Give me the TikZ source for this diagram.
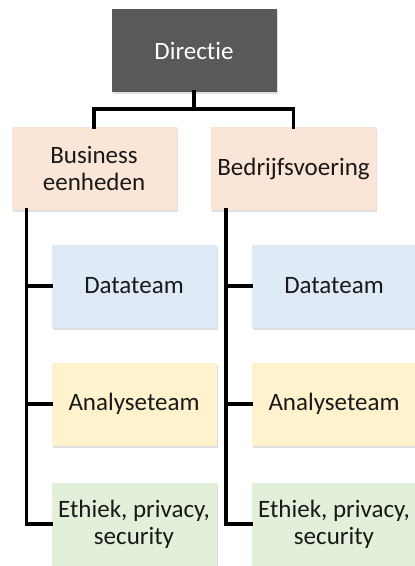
\documentclass[tikz,border=0pt]{standalone}
\usepackage{fontspec}
\setmainfont[Ligatures={NoCommon}]{Carlito}
\usepackage{xcolor}
\usetikzlibrary{positioning, shadows}
\definecolor{topgray}{HTML}{595959}
\definecolor{peach}{HTML}{FBE5D6}
\definecolor{lightblue}{HTML}{DEEBF7}
\definecolor{lightyellow}{HTML}{FFF2CC}
\definecolor{lightgreen}{HTML}{E2F0D9}

\begin{document}
\begin{tikzpicture}[x=1pt, y=-1pt,
    box/.style={rectangle, minimum width=165pt, minimum height=83pt,
        inner sep=2pt, align=center, font=\fontsize{25}{27}\selectfont,
        text=black!90, drop shadow={opacity=0.25, shadow xshift=1pt, shadow yshift=-2pt}},
    top/.style={box, fill=topgray, text=white},
    unit/.style={box, fill=peach},
    data/.style={box, fill=lightblue},
    analyse/.style={box, fill=lightyellow},
    ethiek/.style={box, fill=lightgreen},
    link/.style={line width=3.5pt, line cap=rect}]
    \useasboundingbox (0,0) rectangle (415,566);

    \node[top] (dir) at (194,50.5) {Directie};
    \node[unit] (bus) at (94,168.5) {Business\\eenheden};
    \node[unit] (bed) at (293.5,168.5) {Bedrijfsvoering};

    \node[data] (data1) at (134,286) {Datateam};
    \node[analyse] (ana1) at (134,404) {Analyseteam};
    \node[ethiek] (eth1) at (134,524) {Ethiek, privacy,\\security};

    \node[data] (data2) at (334,286) {Datateam};
    \node[analyse] (ana2) at (334,404) {Analyseteam};
    \node[ethiek] (eth2) at (334,524) {Ethiek, privacy,\\security};

    % directie naar de twee eenheden
    \coordinate (split) at ([yshift=-17pt]dir.south);
    \draw[link] (dir.south) -- (split) -| (bus.north);
    \draw[link] (split) -| (bed.north);

    % teams onder elke eenheid
    \draw[link] ([xshift=15pt]bus.south west) |- (eth1.west);
    \draw[link] ([xshift=15pt]bus.south west |- data1.west) -- (data1.west);
    \draw[link] ([xshift=15pt]bus.south west |- ana1.west) -- (ana1.west);

    \draw[link] ([xshift=15pt]bed.south west) |- (eth2.west);
    \draw[link] ([xshift=15pt]bed.south west |- data2.west) -- (data2.west);
    \draw[link] ([xshift=15pt]bed.south west |- ana2.west) -- (ana2.west);
\end{tikzpicture}
\end{document}
